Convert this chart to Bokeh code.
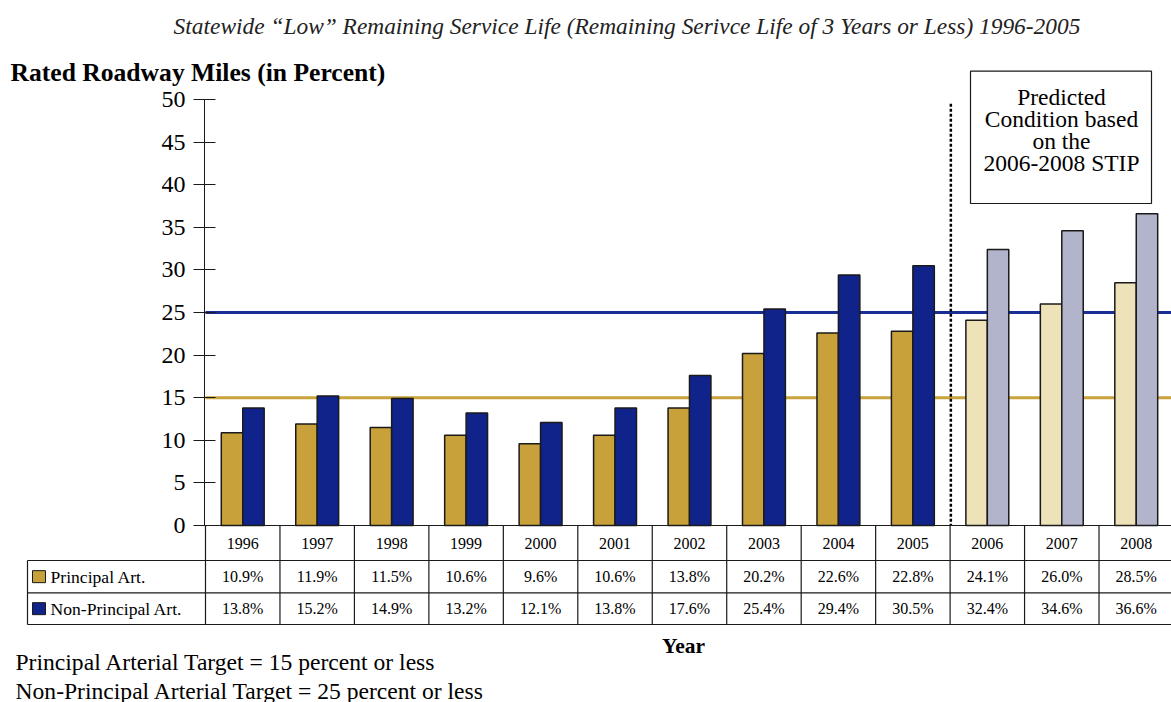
from bokeh.plotting import figure
from bokeh.models import (ColumnDataSource, Range1d, Label, LinearAxis,
                          SingleIntervalTicker)
from bokeh.core.properties import value
from bokeh.embed import file_html
from bokeh.resources import INLINE

# ---------------- data ----------------
years = ["1996", "1997", "1998", "1999", "2000", "2001", "2002",
         "2003", "2004", "2005", "2006", "2007", "2008"]
principal = [10.9, 11.9, 11.5, 10.6, 9.6, 10.6, 13.8, 20.2, 22.6, 22.8, 24.1, 26.0, 28.5]
non_principal = [13.8, 15.2, 14.9, 13.2, 12.1, 13.8, 17.6, 25.4, 29.4, 30.5, 32.4, 34.6, 36.6]
predicted_from = 2006
target_principal = 15
target_non_principal = 25
series_names = ["Principal Art.", "Non-Principal Art."]
title_text = "Statewide \u201cLow\u201d Remaining Service Life (Remaining Serivce Life of 3 Years or Less) 1996-2005"
ylabel_text = "Rated Roadway Miles (in Percent)"
xlabel_text = "Year"
box_lines = ["Predicted", "Condition based", "on the", "2006-2008 STIP"]
notes = ["Principal Arterial Target = 15 percent or less",
         "Non-Principal Arterial Target = 25 percent or less"]

# ---------------- style ----------------
FONT = "Liberation Serif"
GOLD = "#C8A13A"
BLUE = "#10238B"
CREAM = "#EEE2B8"
LAVENDER = "#B2B4CB"
GOLD_LINE = "#C9A33B"
BLUE_LINE = "#1A2F95"
INK = "#1a1a1a"

PX_X = 74.46   # pixels per column
PX_Y = 8.52    # pixels per percent

def dx(px):   # canvas pixel x -> data x
    return (px - 205) / PX_X

def dy(px):   # canvas pixel y -> data y
    return (525 - px) / PX_Y

W, H = 1171, 702
p = figure(width=W, height=H, output_backend="svg", toolbar_location=None, tools="",
           x_range=Range1d(dx(0), dx(W)), y_range=Range1d(dy(H), dy(0)),
           x_axis_location=None, y_axis_location=None,
           min_border_left=0, min_border_right=0, min_border_top=0, min_border_bottom=0)
p.outline_line_color = None
p.xgrid.visible = False
p.ygrid.visible = False
p.background_fill_color = "white"
p.border_fill_color = "white"

ax = LinearAxis(fixed_location=dx(204))
ax.ticker = SingleIntervalTicker(interval=5)
ax.bounds = (0, 50)
ax.minor_tick_line_color = None
ax.major_tick_in = 11
ax.major_tick_out = 11
ax.major_label_standoff = 8
ax.axis_line_color = INK
ax.major_tick_line_color = INK
ax.major_label_text_font = FONT
ax.major_label_text_font_size = "24px"
ax.major_label_text_color = "black"
p.add_layout(ax, "left")

# target lines (behind bars), starting at the axis
p.segment(x0=[0, 0], x1=[dx(W), dx(W)], y0=[target_principal, target_non_principal],
          y1=[target_principal, target_non_principal], line_color=[GOLD_LINE, BLUE_LINE],
          line_width=3)

# bars
n = len(years)
idx = list(range(n))
is_pred = [int(y) >= predicted_from for y in years]
src = ColumnDataSource(dict(
    xp=[i + 0.356 for i in idx],
    xn=[i + 0.644 for i in idx],
    principal=principal,
    non_principal=non_principal,
    pc=[CREAM if f else GOLD for f in is_pred],
    nc=[LAVENDER if f else BLUE for f in is_pred],
))
p.vbar(x="xp", top="principal", bottom=0, width=0.288, source=src,
       fill_color="pc", line_color=INK, line_width=1.5)
p.vbar(x="xn", top="non_principal", bottom=0, width=0.288, source=src,
       fill_color="nc", line_color=INK, line_width=1.5)

# divider between actual and predicted
p.segment(x0=[10.01], y0=[49.5], x1=[10.01], y1=[0], line_color="black",
          line_width=2.5, line_dash="3 2")

# prediction box
p.quad(left=[dx(970)], right=[dx(1151)], top=[dy(70.7)], bottom=[dy(203)],
       fill_color="white", line_color=INK, line_width=1.2)
for k, t in enumerate(box_lines):
    p.add_layout(Label(x=dx(1061), y=dy(96.5 + 22.1 * k), text=t, text_align="center",
                       text_baseline="middle", text_font=FONT,
                       text_font_size="23.5px", text_color="black"))

# ---------------- data table ----------------
r0, r1, r2, r3 = 0, dy(560), dy(592.3), dy(624)
left_col = dx(27)
p.segment(x0=[0, left_col, left_col, left_col], y0=[r0, r1, r2, r3],
          x1=[dx(W)] * 4, y1=[r0, r1, r2, r3], line_color=INK, line_width=1.2)
p.segment(x0=list(range(n + 1)), y0=[0] * (n + 1), x1=list(range(n + 1)),
          y1=[r3] * (n + 1), line_color=INK, line_width=1.2)
p.segment(x0=[left_col], y0=[r1], x1=[left_col], y1=[r3], line_color=INK, line_width=1.2)

tsrc = ColumnDataSource(dict(
    x=[i + 0.5 for i in idx],
    year=years,
    ptxt=[f"{v:.1f}%" for v in principal],
    ntxt=[f"{v:.1f}%" for v in non_principal],
    yy=[(r0 + r1) / 2] * n,
    yp=[(r1 + r2) / 2] * n,
    yn=[(r2 + r3) / 2] * n,
))
for col, ycol in (("year", "yy"), ("ptxt", "yp"), ("ntxt", "yn")):
    p.text(x="x", y=ycol, text=col, source=tsrc, text_align="center",
           text_baseline="middle", text_font=value(FONT), text_font_size="16px",
           text_color="black")

# legend cells
mids = [(r1 + r2) / 2, (r2 + r3) / 2]
p.quad(left=[dx(32)] * 2, right=[dx(45)] * 2, top=[m + 6 / PX_Y for m in mids],
       bottom=[m - 6 / PX_Y for m in mids], fill_color=[GOLD, BLUE],
       line_color=INK, line_width=1)
p.text(x=[dx(50)] * 2, y=mids, text=series_names, text_align="left",
       text_baseline="middle", text_font=value(FONT), text_font_size="17.6px",
       text_color="black")

# ---------------- texts ----------------
p.add_layout(Label(x=dx(626.5), y=dy(25), text=title_text, text_align="center",
                   text_baseline="middle", text_font=FONT, text_font_style="italic",
                   text_font_size="23.4px", text_color="#222222"))
p.add_layout(Label(x=dx(10), y=dy(72), text=ylabel_text, text_align="left",
                   text_baseline="middle", text_font=FONT, text_font_style="bold",
                   text_font_size="25.6px", text_color="black"))
p.add_layout(Label(x=dx(683), y=dy(645), text=xlabel_text, text_align="center",
                   text_baseline="middle", text_font=FONT, text_font_style="bold",
                   text_font_size="21.5px", text_color="black"))
for k, t in enumerate(notes):
    p.add_layout(Label(x=dx(15), y=dy(661 + 29 * k), text=t, text_align="left",
                       text_baseline="middle", text_font=FONT,
                       text_font_size="23.6px", text_color="black"))

open("out.html", "w").write(file_html(p, INLINE))
